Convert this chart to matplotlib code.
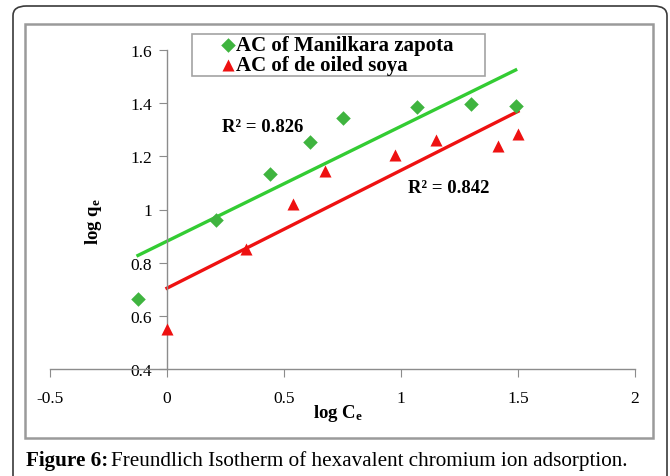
import numpy as np
import matplotlib
matplotlib.use("Agg")
import matplotlib.pyplot as plt
from matplotlib.patches import FancyBboxPatch, Rectangle

plt.rcParams["font.family"] = ["Liberation Serif", "DejaVu Serif"]
plt.rcParams["mathtext.fontset"] = "custom"
plt.rcParams["mathtext.rm"] = "Liberation Serif"
plt.rcParams["mathtext.bf"] = "Liberation Serif:bold"
plt.rcParams["mathtext.it"] = "Liberation Serif:italic"

# datos
x_zapota = [-0.124, 0.21, 0.44, 0.61, 0.75, 1.07, 1.30, 1.49]
y_zapota = [0.665, 0.96, 1.135, 1.255, 1.345, 1.385, 1.395, 1.39]
x_soya = [0.0, 0.336, 0.54, 0.675, 0.975, 1.15, 1.415, 1.50]
y_soya = [0.55, 0.85, 1.02, 1.145, 1.205, 1.26, 1.24, 1.285]
etiquetas = ["AC of Manilkara zapota", "AC of de oiled soya"]
r2_textos = ["R² = 0.826", "R² = 0.842"]
x_ticks = [-0.5, 0, 0.5, 1, 1.5, 2]
y_ticks = [0.4, 0.6, 0.8, 1.0, 1.2, 1.4, 1.6]
x_tick_labels = ["-0.5", "0", "0.5", "1", "1.5", "2"]
y_tick_labels = ["0.4", "0.6", "0.8", "1", "1.2", "1.4", "1.6"]

VERDE_PUNTO = "#3fb43f"
VERDE_LINEA = "#33cc33"
ROJO = "#ee1111"
GRIS = "#8c8c8c"

fig = plt.figure(figsize=(6.7, 4.77), dpi=100)

# marco exterior redondeado
marco = FancyBboxPatch((13 / 670, -0.05), (667 - 13) / 670, 1.05 - 7 / 477,
                       boxstyle="round,pad=0,rounding_size=0.02",
                       transform=fig.transFigure, fill=False,
                       edgecolor="#3a3a3a", linewidth=1.2)
fig.patches.append(marco)
# caja del grafico
caja = Rectangle((25 / 670, 1 - 439 / 477), (653 - 25) / 670, (439 - 25) / 477,
                 transform=fig.transFigure, fill=False, edgecolor="#9a9a9a", linewidth=1.8)
fig.patches.append(caja)

ax = fig.add_axes([50 / 670, 1 - 370 / 477, 585 / 670, (370 - 51) / 477])
ax.set_xlim(-0.5, 2)
ax.set_ylim(0.4, 1.6)
ax.patch.set_alpha(0)

for lado in ["top", "right"]:
    ax.spines[lado].set_visible(False)
ax.spines["left"].set_position(("data", 0))
for lado in ["left", "bottom"]:
    ax.spines[lado].set_color(GRIS)
    ax.spines[lado].set_linewidth(1.0)

ax.set_xticks(x_ticks)
ax.set_xticklabels(x_tick_labels)
ax.set_yticks(y_ticks)
ax.set_yticklabels(y_tick_labels)
ax.tick_params(axis="x", direction="out", length=6, color=GRIS, pad=9, labelsize=12.5)
ax.tick_params(axis="y", direction="out", length=6, color=GRIS, pad=5, labelsize=12.5)

# lineas de tendencia (minimos cuadrados)
for xs, ys, color in [(x_zapota, y_zapota, VERDE_LINEA), (x_soya, y_soya, ROJO)]:
    m, b = np.polyfit(xs, ys, 1)
    xl = np.array([min(xs), max(xs)])
    ax.plot(xl, m * xl + b, color=color, linewidth=2.4, zorder=2)

ax.scatter(x_zapota, y_zapota, marker="D", s=55, color=VERDE_PUNTO,
           label=etiquetas[0], zorder=3, linewidths=0)
ax.scatter(x_soya, y_soya, marker="^", s=75, color=ROJO,
           label=etiquetas[1], zorder=3, linewidths=0)

ax.text(0.235, 1.314, r2_textos[0], fontsize=13.5, fontweight="bold", va="center")
ax.text(1.03, 1.084, r2_textos[1], fontsize=13.5, fontweight="bold", va="center")

fig.text(338 / 670, 1 - 414 / 477, r"$\mathbf{log\ C_e}$", fontsize=13.5,
         ha="center", va="center")
fig.text(93 / 670, 1 - 222 / 477, r"$\mathbf{log\ q_e}$", fontsize=13.5,
         rotation=90, ha="center", va="center")

leg = ax.legend(loc="upper left",
                bbox_to_anchor=(192 / 670, 1 - 78 / 477, 293 / 670, 43 / 477),
                bbox_transform=fig.transFigure, mode="expand",
                fancybox=False, frameon=True, edgecolor=GRIS,
                prop={"weight": "bold", "size": 15},
                handlelength=3.4, handletextpad=-1.35, borderpad=0.05,
                labelspacing=0.0, borderaxespad=0)
leg.get_frame().set_linewidth(1.2)

fig.text(26 / 670, 1 - 461 / 477, "Figure 6:", fontsize=15.2, fontweight="bold",
         va="center", ha="left")
fig.text(111 / 670, 1 - 461 / 477,
         "Freundlich Isotherm of hexavalent chromium ion adsorption.",
         fontsize=15.2, va="center", ha="left")

fig.savefig("out.png", dpi=100)
